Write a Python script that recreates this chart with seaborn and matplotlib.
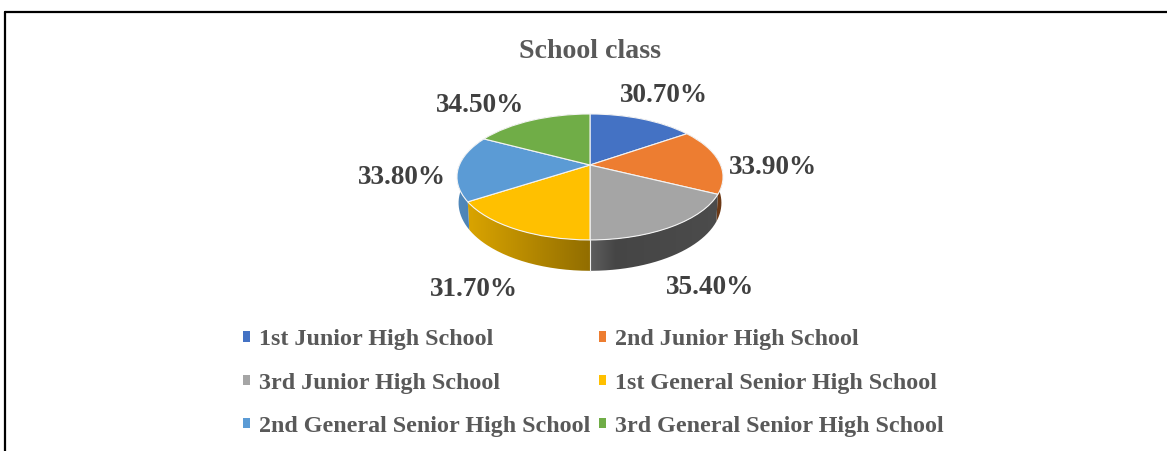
import numpy as np
import matplotlib
matplotlib.use('Agg')
import matplotlib.pyplot as plt
import matplotlib.transforms as mtransforms
from matplotlib.lines import Line2D
from matplotlib.patches import Patch, PathPatch
from matplotlib.path import Path
import seaborn as sns

title = 'School class'
classes = ['1st Junior High School', '2nd Junior High School',
           '3rd Junior High School', '1st General Senior High School',
           '2nd General Senior High School', '3rd General Senior High School']
shares = [30.7, 33.9, 35.4, 31.7, 33.8, 34.5]
slice_colors = ['#4472C4', '#ED7D31', '#A5A5A5', '#FFC000', '#5B9BD5', '#70AD47']

W, H = 1167, 451
CX, CY = 590, 165      # hub of the pie, in pixels
RX, RY = 130.6, 60.7   # pixels per data unit
TILT = 0.19            # perspective of the tilted disc
DROP = 0.412           # thickness of the disc


def project(u, v, drop=0.0, shrink=1.0):
    den = 1 + TILT * v
    return u * shrink / den, (v - drop) / den


class PieProjection(mtransforms.Transform):
    input_dims = 2
    output_dims = 2

    def transform_non_affine(self, values):
        x, y = project(values[:, 0], values[:, 1])
        return np.column_stack([x, y])


def px(x, y):
    return x / W, 1 - y / H


sns.set_theme(style='white')
plt.rcParams['font.family'] = ['Liberation Serif', 'DejaVu Serif']
palette = sns.color_palette(slice_colors)

fig = plt.figure(figsize=(W / 100, H / 100), dpi=100)
ax = fig.add_axes([0, 0, 1, 1])

wedges, _ = ax.pie(shares, colors=palette, startangle=90, counterclock=False,
                   wedgeprops={'edgecolor': '#f4f4f4', 'linewidth': 0.8})

ax.set_aspect('auto')
xlim = ((0 - CX) / RX, (W - CX) / RX)
ylim = ((CY - H) / RY, (CY - 0) / RY)

proj = PieProjection()
for w in wedges:
    w.set_transform(proj + ax.transData)
    w.set_zorder(3)

# side wall of each slice, shaded from left to right
grad_x = np.linspace(xlim[0], xlim[1], 600)
shade = np.interp(grad_x, [-1.02, 0.0, 0.2, 1.02], [0.88, 0.57, 0.42, 0.46])
for w, col in zip(wedges, palette):
    a = np.radians(np.linspace(w.theta1, w.theta2, 80))
    xt, yt = project(np.cos(a), np.sin(a))
    xb, yb = project(np.cos(a), np.sin(a), DROP, 0.988)
    verts = np.column_stack([np.r_[xt, xb[::-1]], np.r_[yt, yb[::-1]]])
    wall = PathPatch(Path(verts), facecolor='none', edgecolor='none')
    ax.add_patch(wall)
    img = np.array(col)[None, None, :] * shade[None, :, None]
    im = ax.imshow(img, extent=[xlim[0], xlim[1], ylim[0], ylim[1]],
                   aspect='auto', zorder=1, interpolation='bilinear')
    im.set_clip_path(wall)

# thin light seam where the gray and yellow walls meet
a0 = np.radians(wedges[2].theta1)
xs0, ys0 = project(np.cos(a0), np.sin(a0))
xs1, ys1 = project(np.cos(a0), np.sin(a0), DROP, 0.988)
ax.plot([xs0, xs1], [ys0, ys1], color='#eeeeee', lw=0.8, zorder=2)

ax.set_xlim(xlim)
ax.set_ylim(ylim)
ax.set_axis_off()

label_pos = [(664, 95), (773, 167), (710, 287), (474, 290), (402, 177), (480, 105)]
for val, (lx, ly) in zip(shares, label_pos):
    tx, ty = px(lx, ly)
    fig.text(tx, ty, f'{val:.2f}%', ha='center', va='center', fontsize=19.5,
             fontweight='bold', color='#404040')

tx, ty = px(590, 51)
fig.text(tx, ty, title, ha='center', va='center', fontsize=20.1,
         fontweight='bold', color='#595959')

# legend fills by column, the reference reads row by row
order = [0, 2, 4, 1, 3, 5]
handles = [Patch(facecolor=palette[i], edgecolor='none') for i in order]
ax.legend(handles, [classes[i] for i in order], ncol=2, loc='center',
          bbox_to_anchor=px(593.5, 383), bbox_transform=fig.transFigure,
          frameon=False, labelcolor='#595959',
          prop={'weight': 'bold', 'size': 17.3},
          handlelength=0.3, handleheight=0.3, handletextpad=0.37,
          columnspacing=0.37, labelspacing=0.92, borderpad=0)

# frame left from the source screenshot
fig.add_artist(Line2D([5 / W, 1], [1 - 12 / H, 1 - 12 / H], color='black', lw=1.6))
fig.add_artist(Line2D([5 / W, 5 / W], [0, 1 - 12 / H], color='black', lw=1.6))

fig.savefig('out.png', dpi=100)
